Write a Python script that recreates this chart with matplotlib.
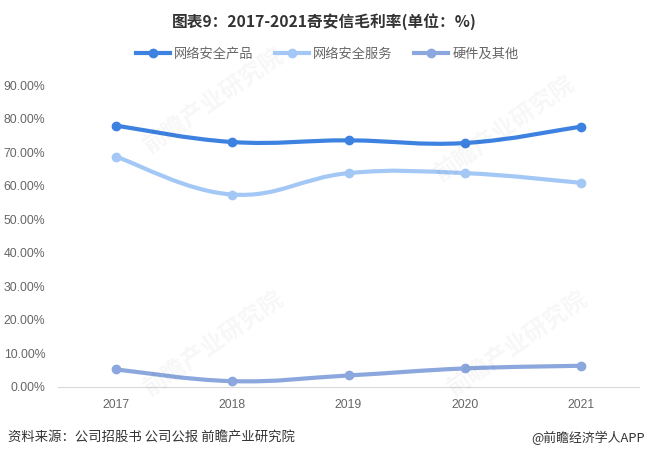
import numpy as np
import matplotlib.pyplot as plt
from matplotlib.path import Path
from matplotlib.patches import PathPatch
from matplotlib.lines import Line2D

plt.rcParams['font.family'] = ['Noto Sans CJK SC', 'DejaVu Sans']

years = ['2017', '2018', '2019', '2020', '2021']
names = ['网络安全产品', '网络安全服务', '硬件及其他']
products = [78.0, 73.1, 73.6, 72.8, 77.7]
services = [68.7, 57.4, 63.8, 63.8, 60.9]
hardware = [5.1, 1.6, 3.3, 5.4, 6.2]
colors = ['#3d82e0', '#a3c8f6', '#8ba7dd']

def smooth_path(xs, ys, s=0.4):
    pts = np.column_stack([xs, ys]).astype(float)
    n = len(pts)
    verts = [pts[0]]
    codes = [Path.MOVETO]
    cps = []
    for i in range(n):
        prev = pts[max(i - 1, 0)]
        nxt = pts[min(i + 1, n - 1)]
        v = (nxt - prev) * s
        cps.append((pts[i] - v * 0.5, pts[i] + v * 0.5))
    for i in range(n - 1):
        verts += [cps[i][1], cps[i + 1][0], pts[i + 1]]
        codes += [Path.CURVE4] * 3
    return Path(verts, codes)

fig = plt.figure(figsize=(6.48, 4.58), dpi=100)
ax = fig.add_axes([58 / 648, 1 - 386.5 / 458, 581 / 648, 301 / 458])

x = np.arange(len(years))
# smoothing in roughly pixel-like space
yscale = 301 / 90 / 116.2
for vals, c in zip([products, services, hardware], colors):
    p = smooth_path(x, np.array(vals) * yscale)
    p = Path(np.column_stack([p.vertices[:, 0], p.vertices[:, 1] / yscale]), p.codes)
    ax.add_patch(PathPatch(p, facecolor='none', edgecolor=c, lw=3.0, capstyle='round', zorder=3))
    ax.plot(x, vals, 'o', color=c, ms=6, zorder=4, clip_on=False)

ax.set_xlim(-0.5, 4.5)
ax.set_ylim(0, 90)
ax.set_yticks(np.arange(0, 91, 10))
ax.set_yticklabels(['%.2f%%' % v for v in np.arange(0, 91, 10)], family='Liberation Sans')
ax.set_xticks(x)
ax.set_xticklabels(years, family='Liberation Sans')
ax.tick_params(axis='both', length=0, labelsize=8.8, colors='#666666')
ax.tick_params(axis='y', pad=9)
ax.tick_params(axis='x', pad=9)
for side in ['top', 'right', 'left']:
    ax.spines[side].set_visible(False)
ax.spines['bottom'].set_color('#d9d9d9')

# watermarks
for wx, wy in [(0.33, 0.78), (0.78, 0.72), (0.33, 0.25), (0.8, 0.25)]:
    fig.text(wx, wy, '前瞻产业研究院', fontsize=17, color='#000000', alpha=0.035,
             rotation=35, ha='center', va='center', fontweight='bold')

fig.text(0.5, 1 - 22 / 458, '图表9：2017-2021奇安信毛利率(单位：%)', ha='center', va='center',
         fontsize=11.3, fontweight='bold', color='#333333')

handles = [Line2D([0], [0], color=c, lw=3, marker='o', ms=6) for c in colors]
fig.legend(handles, names, loc='center', bbox_to_anchor=(0.505, 1 - 54 / 458), ncol=3,
           frameon=False, fontsize=9.5, handlelength=2.6, handletextpad=0.3, columnspacing=1.6,
           labelcolor='#666666')

fig.text(8 / 648, 1 - 438 / 458, '资料来源：公司招股书 公司公报 前瞻产业研究院', ha='left', va='center',
         fontsize=9.6, color='#333333')
fig.text(645 / 648, 1 - 438 / 458, '@前瞻经济学人APP', ha='right', va='center',
         fontsize=9.3, color='#333333')

fig.savefig('out.png', dpi=100)
